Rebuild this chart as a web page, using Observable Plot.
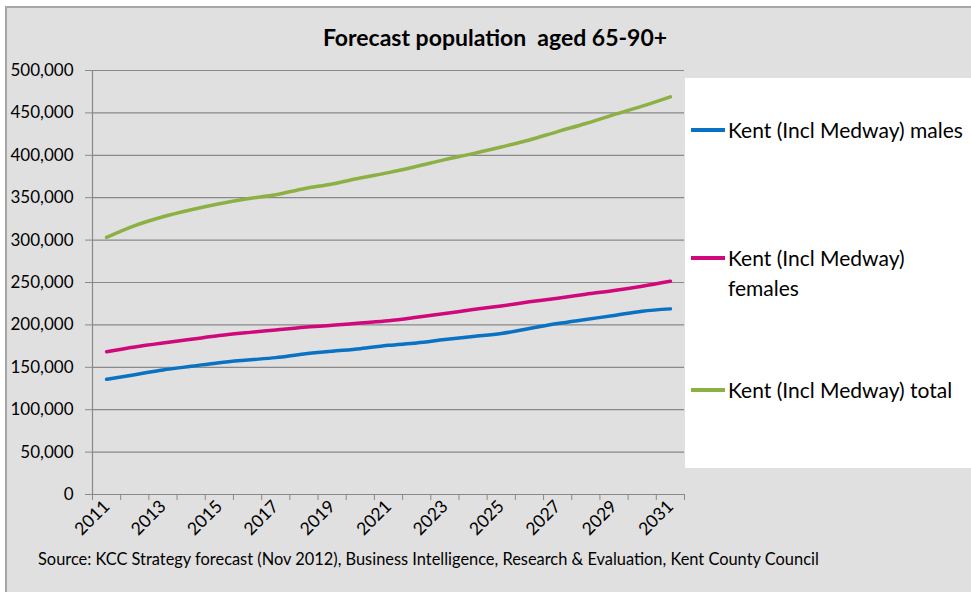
<!DOCTYPE html>
<html>
<head>
<meta charset="utf-8">
<script src="https://cdn.jsdelivr.net/npm/d3@7"></script>
<script src="https://cdn.jsdelivr.net/npm/@observablehq/plot@0.6"></script>
<style>
  html, body { margin: 0; padding: 0; background: #ffffff; overflow: hidden; }
  #page { position: relative; width: 971px; height: 592px; overflow: hidden; font-family: Lato, "DejaVu Sans", sans-serif; color: #000; }
  #frame { position: absolute; left: 5px; top: 6px; width: 1000px; height: 700px; background: #e0e0e0; border: 2px solid #a6a6a6; }
  #chart { position: absolute; left: 0; top: 0; }
  #title { position: absolute; left: 495px; top: 23px; transform: translateX(-50%); font-weight: bold; font-size: 23px; white-space: pre; }
  #legend { position: absolute; left: 685px; top: 78px; width: 300px; height: 390px; background: #ffffff; }
  .swatch { position: absolute; left: 6px; width: 34px; height: 4px; }
  .label { position: absolute; left: 43px; font-size: 21px; line-height: 30px; white-space: nowrap; }
  #caption { position: absolute; left: 38px; top: 549px; font-size: 16.4px; white-space: nowrap; }
</style>
</head>
<body>
<div id="page">
  <div id="frame"></div>
  <div id="chart"></div>
  <div id="title"></div>
  <div id="legend"></div>
  <div id="caption"></div>
</div>
<script>
// Forecast population aged 65-90+, Kent including Medway, 2011-2031
const years = [2011, 2012, 2013, 2014, 2015, 2016, 2017, 2018, 2019, 2020,
               2021, 2022, 2023, 2024, 2025, 2026, 2027, 2028, 2029, 2030, 2031];
const males = [135800, 141300, 146800, 151200, 155500, 158600, 161400, 165700, 168900, 172000,
               175900, 178700, 182700, 186300, 189800, 195700, 201600, 206400, 211100, 216200, 218900];
const females = [168400, 174000, 178700, 183000, 187400, 190900, 194000, 197200, 199500, 202300,
                 205000, 209000, 213400, 218100, 222400, 227200, 231500, 236200, 240500, 245600, 251500];
const total = [303100, 317000, 327500, 335800, 342900, 348800, 353500, 360600, 366200, 373300,
               379600, 387000, 394900, 402000, 409800, 418000, 428000, 437500, 448000, 458000, 469000];

const seriesNames = ["Kent (Incl Medway) males", "Kent (Incl Medway) females", "Kent (Incl Medway) total"];
const seriesColors = ["#0a72c2", "#d0087c", "#8cb043"];
const yTicks = [0, 50000, 100000, 150000, 200000, 250000, 300000, 350000, 400000, 450000, 500000];
const xLabelYears = [2011, 2013, 2015, 2017, 2019, 2021, 2023, 2025, 2027, 2029, 2031];

const titleText = "Forecast population  aged 65-90+";
const captionText = "Source: KCC Strategy forecast (Nov 2012), Business Intelligence, Research & Evaluation, Kent County Council";

// Long-format table for the line mark
const seriesValues = [males, females, total];
const rows = [];
seriesNames.forEach((name, s) => {
  years.forEach((year, i) => rows.push({year, value: seriesValues[s][i], series: name}));
});

// Category boundaries: each year occupies one slot, ticks sit between slots
const xMin = years[0] - 0.5;
const xMax = years[years.length - 1] + 0.5;
const boundaries = d3.range(xMin, xMax + 0.01, 1);

const gridColor = "#898989";

const chart = Plot.plot({
  width: 971,
  height: 592,
  marginLeft: 92,
  marginRight: 287,
  marginTop: 70,
  marginBottom: 98,
  style: {background: "transparent", fontFamily: "Lato, sans-serif", color: "#000", overflow: "visible"},
  x: {type: "linear", domain: [xMin, xMax], label: null},
  y: {domain: [0, 500000], label: null},
  color: {domain: seriesNames, range: seriesColors},
  marks: [
    Plot.gridY({ticks: yTicks, stroke: gridColor, strokeOpacity: 1, strokeWidth: 1.2}),
    Plot.ruleX([xMin], {stroke: gridColor, strokeWidth: 1.2}),
    Plot.ruleY([0], {stroke: gridColor, strokeWidth: 1.2}),
    Plot.axisY({ticks: yTicks, tickSize: 7, tickPadding: 12, tickFormat: d3.format(","),
                stroke: gridColor, fontSize: 17, label: null}),
    Plot.axisX({ticks: boundaries, tickSize: 6, tickFormat: () => "", stroke: gridColor, label: null}),
    Plot.axisX({ticks: xLabelYears, tickSize: 0, tickPadding: 9, tickRotate: -45,
                tickFormat: d => String(d), fontSize: 17.5, label: null}),
    Plot.line(rows, {x: "year", y: "value", z: "series", stroke: "series",
                     strokeWidth: 3.5, curve: "monotone-x"})
  ]
});
document.getElementById("chart").appendChild(chart);

document.getElementById("title").textContent = titleText;
document.getElementById("caption").textContent = captionText;

// Legend entries with their vertical centres inside the white box
const legend = document.getElementById("legend");
const legendEntries = [
  {lines: ["Kent (Incl Medway) males"], cy: 52},
  {lines: ["Kent (Incl Medway)", "females"], cy: 180},
  {lines: ["Kent (Incl Medway) total"], cy: 312}
];
legendEntries.forEach((entry, i) => {
  const sw = document.createElement("div");
  sw.className = "swatch";
  sw.style.top = (entry.cy - 2) + "px";
  sw.style.background = seriesColors[i];
  legend.appendChild(sw);
  const lab = document.createElement("div");
  lab.className = "label";
  lab.style.top = (entry.cy - 15) + "px";
  lab.innerHTML = entry.lines.map(t => t.replace(/&/g, "&amp;")).join("<br>");
  legend.appendChild(lab);
});
</script>
</body>
</html>
